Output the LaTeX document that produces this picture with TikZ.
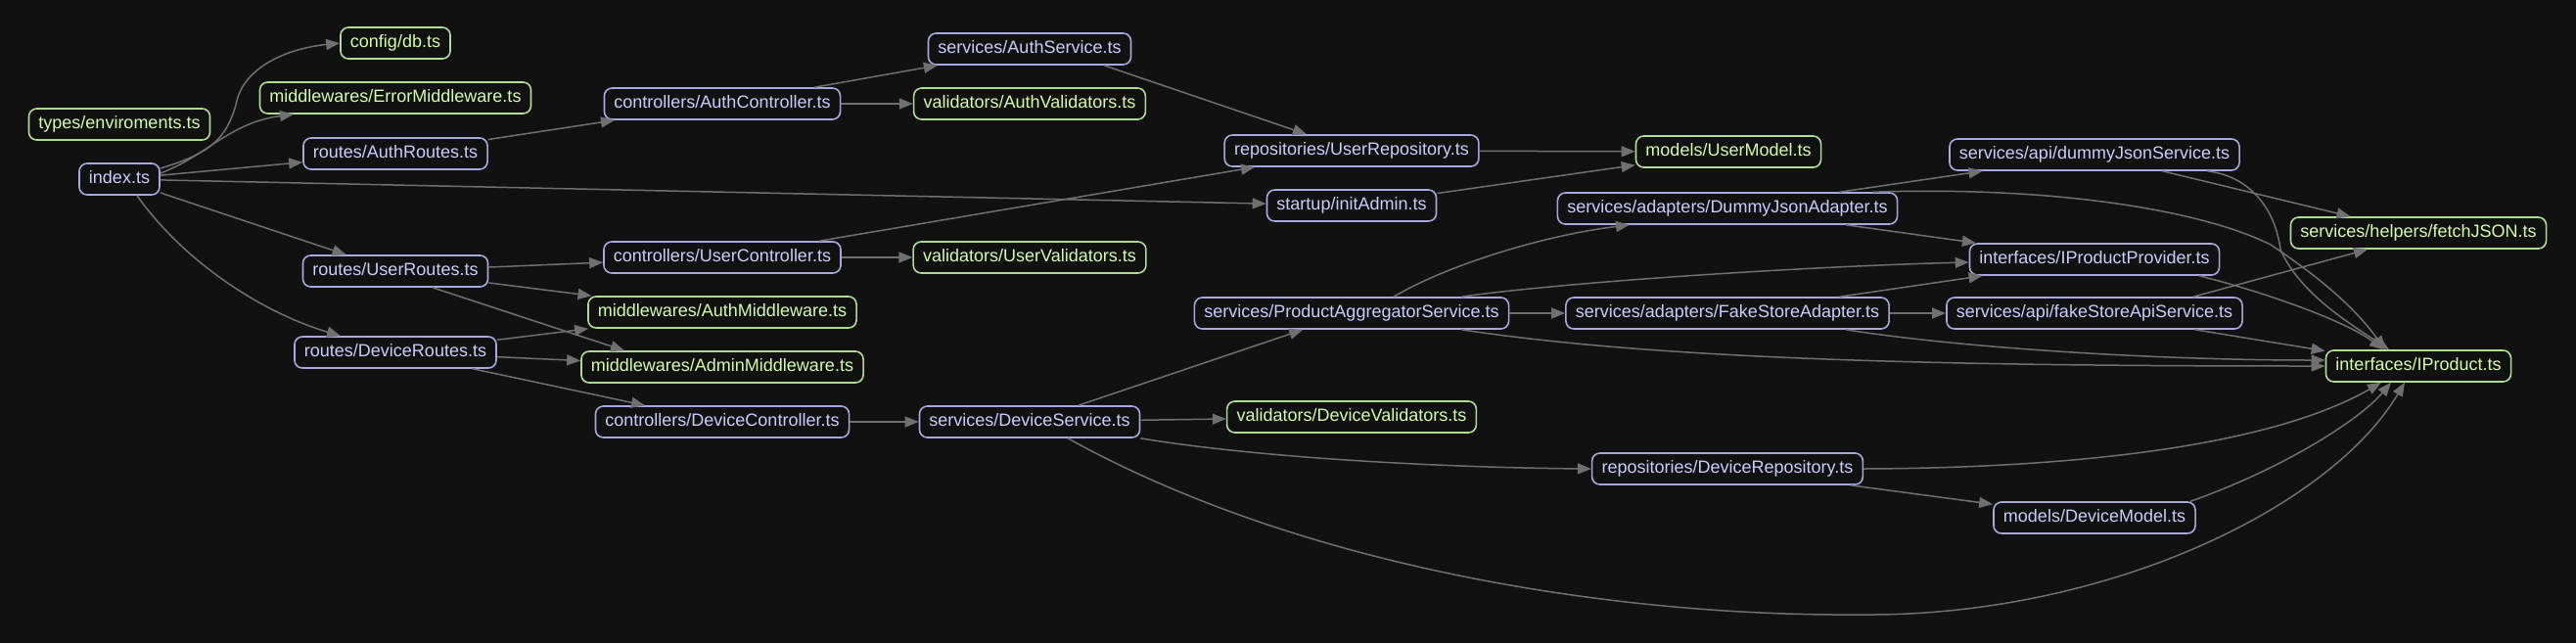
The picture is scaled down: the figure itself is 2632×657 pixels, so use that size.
\documentclass[tikz,border=0pt]{standalone}
\usepackage{fontspec}
\setmainfont{Liberation Sans}
\usetikzlibrary{arrows.meta}
\definecolor{bgc}{HTML}{111111}
\definecolor{bluebd}{HTML}{A8A8E0}
\definecolor{bluetx}{HTML}{CCCCFF}
\definecolor{greenbd}{HTML}{B0DC96}
\definecolor{greentx}{HTML}{D4FFAA}
\definecolor{edgec}{HTML}{707070}
\begin{document}
\begin{tikzpicture}[x=1pt,y=-1pt,
  filebox/.style={draw, rounded corners=8pt, line width=1.6pt, fill=bgc,
    inner xsep=10pt, inner ysep=0pt, minimum height=32pt,
    text height=13pt, text depth=4pt, font=\fontsize{18}{20}\selectfont},
  bluefile/.style={filebox, draw=bluebd, text=bluetx},
  greenfile/.style={filebox, draw=greenbd, text=greentx},
  dep/.style={draw=edgec, line width=1.5pt, -{Triangle[length=14pt,width=11pt]}}
]
\fill[bgc] (0,0) rectangle (2632,657);
\useasboundingbox (0,0) rectangle (2632,657);

% column 1
\node[greenfile] (types) at (122,127) {types/enviroments.ts};
\node[bluefile] (index) at (122,183) {index.ts};
% column 2
\node[greenfile] (configdb) at (404,44) {config/db.ts};
\node[greenfile] (errmw) at (404,100) {middlewares/ErrorMiddleware.ts};
\node[bluefile] (authroutes) at (404,157) {routes/AuthRoutes.ts};
\node[bluefile] (userroutes) at (404,277) {routes/UserRoutes.ts};
\node[bluefile] (deviceroutes) at (404,360) {routes/DeviceRoutes.ts};
% column 3
\node[bluefile] (authctrl) at (738,106) {controllers/AuthController.ts};
\node[bluefile] (userctrl) at (738,263) {controllers/UserController.ts};
\node[greenfile] (authmw) at (738,319) {middlewares/AuthMiddleware.ts};
\node[greenfile] (adminmw) at (738,375) {middlewares/AdminMiddleware.ts};
\node[bluefile] (devctrl) at (738,431) {controllers/DeviceController.ts};
% column 4
\node[bluefile] (authsvc) at (1052,50) {services/AuthService.ts};
\node[greenfile] (authval) at (1052,106) {validators/AuthValidators.ts};
\node[greenfile] (userval) at (1052,263) {validators/UserValidators.ts};
\node[bluefile] (devsvc) at (1052,431) {services/DeviceService.ts};
% column 5
\node[bluefile] (userrepo) at (1381,154) {repositories/UserRepository.ts};
\node[bluefile] (initadmin) at (1381,210) {startup/initAdmin.ts};
\node[bluefile] (pas) at (1381,320) {services/ProductAggregatorService.ts};
\node[greenfile] (devval) at (1381,426) {validators/DeviceValidators.ts};
% column 6
\node[greenfile] (usermodel) at (1766,155) {models/UserModel.ts};
\node[bluefile] (dja) at (1765,213) {services/adapters/DummyJsonAdapter.ts};
\node[bluefile] (fsa) at (1765,320) {services/adapters/FakeStoreAdapter.ts};
\node[bluefile] (devrepo) at (1765,479) {repositories/DeviceRepository.ts};
% column 7
\node[bluefile] (djs) at (2140,158) {services/api/dummyJsonService.ts};
\node[bluefile] (ipp) at (2140,265) {interfaces/IProductProvider.ts};
\node[bluefile] (fsas) at (2140,320) {services/api/fakeStoreApiService.ts};
\node[bluefile] (devmodel) at (2140,529) {models/DeviceModel.ts};
% column 8
\node[greenfile] (fetchjson) at (2471,238) {services/helpers/fetchJSON.ts};
\node[greenfile] (iproduct) at (2471,374) {interfaces/IProduct.ts};

% edges from index
\draw[dep] ([yshift=11pt]index.east) .. controls (210,158) and (232,145) .. (242,103)
  .. controls (250,70) and (290,50) .. (configdb.west);
\draw[dep] ([yshift=6pt]index.east) .. controls (210,160) and (235,125) .. ([xshift=-104pt]errmw.south);
\draw[dep] (index) -- (authroutes);
\draw[dep] (index) -- (initadmin);
\draw[dep] (index) -- (userroutes);
\draw[dep] ([xshift=18pt]index.south) .. controls (190,270) and (270,320) .. ([xshift=-56pt]deviceroutes.north);

% routes
\draw[dep] (authroutes) -- (authctrl);
\draw[dep] (userroutes) -- (userctrl);
\draw[dep] (userroutes) -- (authmw);
\draw[dep] ([xshift=38pt]userroutes.south) -- ([xshift=-100pt]adminmw.north);
\draw[dep] (deviceroutes) -- (authmw);
\draw[dep] (deviceroutes) -- (adminmw);
\draw[dep] (deviceroutes) -- (devctrl);

% controllers
\draw[dep] (authctrl) -- (authsvc);
\draw[dep] (authctrl) -- (authval);
\draw[dep] (userctrl) -- (userrepo);
\draw[dep] (userctrl) -- (userval);
\draw[dep] (devctrl) -- (devsvc);

% services
\draw[dep] ([xshift=76pt]authsvc.south) -- ([xshift=-46pt]userrepo.north);
\draw[dep] (devsvc) -- (pas);
\draw[dep] (devsvc) -- (devval);
\draw[dep] (devsvc.south east) .. controls (1300,470) and (1500,478) .. (devrepo.west);
\draw[dep] ([xshift=39pt]devsvc.south) .. controls (1330,580) and (1650,630) .. (1902,628)
  .. controls (2150,630) and (2380,520) .. ([xshift=-14pt]iproduct.south);

% repositories / startup
\draw[dep] (userrepo) -- (usermodel);
\draw[dep] (initadmin) -- (usermodel);

% aggregator
\draw[dep] ([xshift=43pt]pas.north) .. controls (1480,270) and (1580,240) .. ([xshift=-100pt]dja.south);
\draw[dep] ([xshift=112pt]pas.north) .. controls (1600,288) and (1850,272) .. ([yshift=-3pt]ipp.west);
\draw[dep] (pas) -- (fsa);
\draw[dep] ([xshift=112pt]pas.south) .. controls (1700,368) and (2000,374) .. (iproduct.west);

% adapters
\draw[dep] (dja) -- (djs);
\draw[dep] (dja) -- (ipp);
\draw[dep] ([xshift=148pt]dja.north) .. controls (2100,190) and (2250,215) .. (2320,250)
  .. controls (2380,290) and (2410,320) .. ([xshift=-34pt]iproduct.north);
\draw[dep] (fsa) -- (ipp);
\draw[dep] (fsa) -- (fsas);
\draw[dep] ([xshift=121pt]fsa.south) .. controls (2000,355) and (2200,368) .. ([yshift=6pt]iproduct.west);

% api services
\draw[dep] (djs) -- (fetchjson);
\draw[dep] ([xshift=115pt]djs.south) .. controls (2300,180) and (2325,215) .. (2330,255)
  .. controls (2350,300) and (2400,330) .. ([xshift=-30pt]iproduct.north);
\draw[dep] ([xshift=101pt]fsas.north) -- ([xshift=-52pt]fetchjson.south);
\draw[dep] (fsas) -- (iproduct);
\draw[dep] ([xshift=107pt]ipp.south) .. controls (2320,300) and (2400,330) .. ([xshift=-36pt]iproduct.north);

% device repository / model
\draw[dep] (devrepo.east) .. controls (2150,478) and (2330,450) .. ([xshift=-38pt]iproduct.south);
\draw[dep] (devrepo) -- (devmodel);
\draw[dep] ([xshift=98pt]devmodel.north) .. controls (2330,480) and (2410,430) .. ([xshift=-28pt]iproduct.south);
\end{tikzpicture}
\end{document}
